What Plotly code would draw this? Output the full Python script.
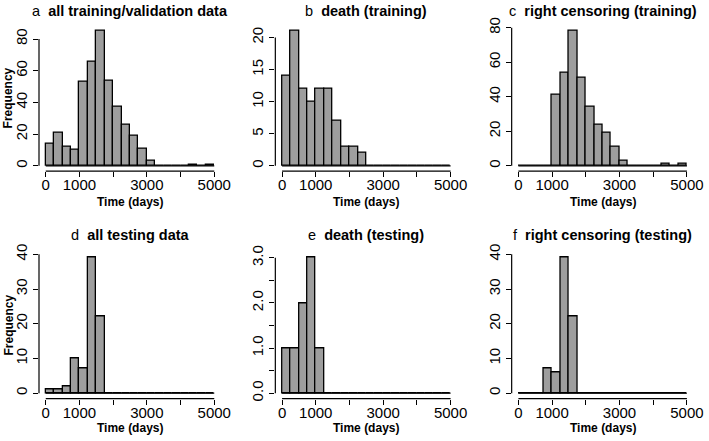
import plotly.graph_objects as go

# ---- data ----
bin_edges = [0, 250, 500, 750, 1000, 1250, 1500, 1750, 2000, 2250, 2500,
             2750, 3000, 3250, 3500, 3750, 4000, 4250, 4500, 4750, 5000]

counts_a = [14, 21, 12, 10, 53, 66, 85, 54, 37, 26, 19, 11, 3, 0, 0, 0, 0, 1, 0, 1]
counts_b = [14, 21, 12, 10, 12, 12, 7, 3, 3, 2, 0, 0, 0, 0, 0, 0, 0, 0, 0, 0]
counts_c = [0, 0, 0, 0, 41, 54, 78, 51, 34, 24, 19, 11, 3, 0, 0, 0, 0, 1, 0, 1]
counts_d = [1, 1, 2, 10, 7, 39, 22, 0, 0, 0, 0, 0, 0, 0, 0, 0, 0, 0, 0, 0]
counts_e = [1, 1, 2, 3, 1, 0, 0, 0, 0, 0, 0, 0, 0, 0, 0, 0, 0, 0, 0, 0]
counts_f = [0, 0, 0, 7, 6, 39, 22, 0, 0, 0, 0, 0, 0, 0, 0, 0, 0, 0, 0, 0]

panel_letters = ["a", "b", "c", "d", "e", "f"]
panel_titles = ["all training/validation data", "death (training)",
                "right censoring (training)", "all testing data",
                "death (testing)", "right censoring (testing)"]

x_tickvals = [0, 1000, 2000, 3000, 4000, 5000]
x_ticktext = ["0", "1000", "", "3000", "", "5000"]

y_tickvals_a = [0, 20, 40, 60, 80]
y_tickvals_b = [0, 5, 10, 15, 20]
y_tickvals_c = [0, 20, 40, 60, 80]
y_tickvals_d = [0, 10, 20, 30, 40]
y_tickvals_e = [0, 0.5, 1.0, 1.5, 2.0, 2.5, 3.0]
y_tickvals_f = [0, 10, 20, 30, 40]

y_ticktext_a = ["0", "20", "40", "60", "80"]
y_ticktext_b = ["0", "5", "10", "15", "20"]
y_ticktext_c = ["0", "20", "40", "60", "80"]
y_ticktext_d = ["0", "10", "20", "30", "40"]
y_ticktext_e = ["0.0", "", "1.0", "", "2.0", "", "3.0"]
y_ticktext_f = ["0", "10", "20", "30", "40"]

x_label = "Time (days)"
y_label = "Frequency"

# ---- layout ----
W, H = 709, 441
FONT = "Liberation Sans, Arial, Helvetica, sans-serif"
BAR_COLOR = "#9e9e9e"

all_counts = [counts_a, counts_b, counts_c, counts_d, counts_e, counts_f]
all_ytv = [y_tickvals_a, y_tickvals_b, y_tickvals_c, y_tickvals_d, y_tickvals_e, y_tickvals_f]
all_ytt = [y_ticktext_a, y_ticktext_b, y_ticktext_c, y_ticktext_d, y_ticktext_e, y_ticktext_f]

col_w = W / 3.0
col_left_px = 39.0
col_right_px = 221.0
row_px = [(25.7, 171.2), (252.4, 398.6)]

fig = go.Figure()
annotations = []
shapes = []

for i in range(6):
    r, c = divmod(i, 3)
    idx = "" if i == 0 else str(i + 1)
    xa, ya = "x" + idx, "y" + idx
    counts = all_counts[i]
    centers = [(bin_edges[k] + bin_edges[k + 1]) / 2 for k in range(len(counts))]
    widths = [bin_edges[k + 1] - bin_edges[k] for k in range(len(counts))]

    fig.add_trace(go.Bar(
        x=centers, y=counts, width=widths, xaxis=xa, yaxis=ya,
        marker=dict(color=BAR_COLOR, line=dict(color="black", width=1.3)),
        showlegend=False, hoverinfo="x+y"))
    # baseline (zero-height bins drawn as lines, as in R hist)
    fig.add_trace(go.Scatter(
        x=[bin_edges[0], bin_edges[-1]], y=[0, 0], xaxis=xa, yaxis=ya,
        mode="lines", line=dict(color="black", width=1.3),
        showlegend=False, hoverinfo="skip"))

    x0px = c * col_w + col_left_px
    x1px = c * col_w + col_right_px
    y0px, y1px = row_px[r]
    xspan = bin_edges[-1] - bin_edges[0]
    ymax = max(counts)
    xr = [bin_edges[0] - 0.04 * xspan, bin_edges[-1] + 0.04 * xspan]
    yr = [-0.04 * ymax, 1.04 * ymax]

    axis_common = dict(showgrid=False, zeroline=False, showline=False,
                       automargin=False,
                       ticks="outside", ticklen=5, tickwidth=1.2, tickcolor="black",
                       tickfont=dict(family=FONT, size=15, color="black"))
    fig.update_layout(**{
        ("xaxis" + idx): dict(domain=[x0px / W, x1px / W], range=xr, anchor=ya,
                              tickvals=x_tickvals, ticktext=x_ticktext,
                              ticklabelstandoff=-5, **axis_common),
        ("yaxis" + idx): dict(domain=[1 - y1px / H, 1 - y0px / H], range=yr, anchor=xa,
                              tickvals=all_ytv[i], ticktext=all_ytt[i], tickangle=-90,
                              **axis_common),
    })

    # axis lines spanning first..last tick (R style)
    shapes.append(dict(type="line", xref=xa, yref=ya + " domain",
                       x0=x_tickvals[0], x1=x_tickvals[-1], y0=0, y1=0,
                       line=dict(color="black", width=1.2)))
    shapes.append(dict(type="line", xref=xa + " domain", yref=ya,
                       x0=0, x1=0, y0=all_ytv[i][0], y1=all_ytv[i][-1],
                       line=dict(color="black", width=1.2)))

    cx = (x0px + x1px) / 2 / W
    title_y = 11 if r == 0 else 235
    annotations.append(dict(
        text=panel_letters[i] + "  <b>" + panel_titles[i] + "</b>",
        x=cx, y=1 - title_y / H, xref="paper", yref="paper",
        xanchor="center", yanchor="middle", showarrow=False,
        font=dict(family=FONT, size=14.5, color="black")))
    xlab_y = 201.7 if r == 0 else 428.3
    annotations.append(dict(
        text="<b>" + x_label + "</b>", x=cx, y=1 - xlab_y / H,
        xref="paper", yref="paper", xanchor="center", yanchor="middle",
        showarrow=False, font=dict(family=FONT, size=12, color="black")))
    if c == 0:
        annotations.append(dict(
            text="<b>" + y_label + "</b>", x=8 / W, y=1 - (y0px + y1px) / 2 / H,
            xref="paper", yref="paper", xanchor="center", yanchor="middle",
            textangle=-90, showarrow=False,
            font=dict(family=FONT, size=12, color="black")))

fig.update_layout(
    width=W, height=H, margin=dict(l=0, r=0, t=0, b=0, autoexpand=False),
    paper_bgcolor="white", plot_bgcolor="white",
    bargap=0, annotations=annotations, shapes=shapes,
    font=dict(family=FONT, color="black"),
)

fig.write_html(
    "out.html",
    config={"displayModeBar": False},
    post_script="document.body.style.margin='0';document.body.style.overflow='hidden';",
)
